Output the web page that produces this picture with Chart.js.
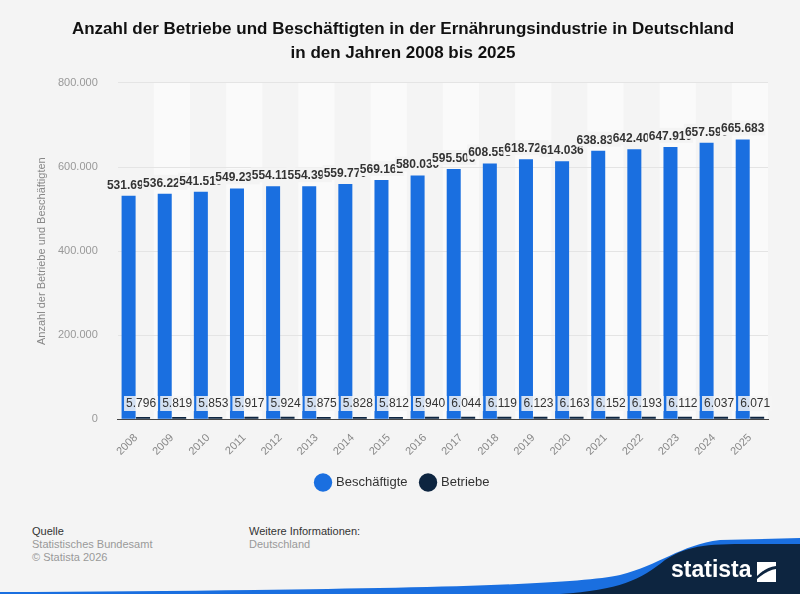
<!DOCTYPE html>
<html>
<head>
<meta charset="utf-8">
<script src="https://cdn.jsdelivr.net/npm/chart.js"></script>
<style>
  html, body { margin: 0; padding: 0; background: #f4f4f4; }
  #wrap { position: relative; width: 800px; height: 594px; overflow: hidden; }
  #chart { position: absolute; left: 0; top: 0; }
  .foot { position: absolute; font-family: "Liberation Sans Narrow", "Liberation Sans", Arial, sans-serif; font-size: 11px; line-height: 13px; }
  .foot .h { color: #333; }
  .foot .g { color: #999; }
  #logoTxt { position: absolute; left: 671px; top: 556px; color: #fff; font-family: "Liberation Sans Narrow", "Liberation Sans", Arial, sans-serif; font-weight: bold; font-size: 23px; }
</style>
</head>
<body>
<div id="wrap">
  <canvas id="chart" width="800" height="499"></canvas>

  <div class="foot" style="left:32px; top:525px;">
    <div class="h">Quelle</div>
    <div class="g">Statistisches Bundesamt</div>
    <div class="g">© Statista 2026</div>
  </div>
  <div class="foot" style="left:249px; top:525px;">
    <div class="h">Weitere Informationen:</div>
    <div class="g">Deutschland</div>
  </div>

  <svg width="800" height="594" style="position:absolute;left:0;top:0;">
    <path d="M0,592 C300,590 560,588 620,575 C660,565 680,545 720,540 L800,538 L800,594 L0,594 Z" fill="#1a6fe0"/>
    <path d="M560,594 C620,590 640,580 665,560 C690,544 710,544 760,544 L800,544 L800,594 Z" fill="#0d2540"/>
    <path d="M757,562 L776,562 L776,566 C768,567 762,571 757,576 Z" fill="#fff"/>
    <path d="M776,569 L776,582 L757,582 L757,579 C763,574 769,570 776,569 Z" fill="#fff"/>
  </svg>
  <div id="logoTxt">statista</div>
</div>

<script>
const years = ["2008", "2009", "2010", "2011", "2012", "2013", "2014", "2015", "2016",
  "2017", "2018", "2019", "2020", "2021", "2022", "2023", "2024", "2025"];
const beschaeftigte = [531690, 536220, 541510, 549230, 554110, 554390, 559770, 569162, 580030,
  595506, 608555, 618720, 614036, 638830, 642400, 647910, 657590, 665683];
const betriebe = [5796, 5819, 5853, 5917, 5924, 5875, 5828, 5812, 5940,
  6044, 6119, 6123, 6163, 6152, 6193, 6112, 6037, 6071];
const yTicks = [0, 200000, 400000, 600000, 800000];

const fmt = v => String(v).replace(/\B(?=(\d{3})+(?!\d))/g, ".");
const FONT = '"Liberation Sans", Arial, sans-serif';

// background, alternating column bands and the y axis title
const bandsPlugin = {
  id: "bands",
  beforeDraw(chart) {
    const { ctx, chartArea, scales } = chart;
    ctx.save();
    ctx.fillStyle = "#f4f4f4";
    ctx.fillRect(0, 0, chart.width, chart.height);
    const step = scales.x.getPixelForValue(1) - scales.x.getPixelForValue(0);
    ctx.fillStyle = "#fafafa";
    for (let i = 1; i < years.length; i += 2) {
      const cx = scales.x.getPixelForValue(i);
      ctx.fillRect(cx - step / 2, chartArea.top, step, chartArea.bottom - chartArea.top);
    }
    ctx.translate(42, (chartArea.top + chartArea.bottom) / 2);
    ctx.rotate(-Math.PI / 2);
    ctx.fillStyle = "#888";
    ctx.font = "11px " + FONT;
    ctx.textAlign = "center";
    ctx.textBaseline = "middle";
    ctx.fillText("Anzahl der Betriebe und Beschäftigten", 0, 0);
    ctx.restore();
  }
};

// value labels
const labelsPlugin = {
  id: "valueLabels",
  afterDatasetsDraw(chart) {
    const ctx = chart.ctx;
    ctx.save();
    ctx.textAlign = "center";
    ctx.textBaseline = "alphabetic";
    ctx.font = "bold 12px " + FONT;
    chart.getDatasetMeta(0).data.forEach((bar, i) => {
      const t = fmt(beschaeftigte[i]);
      const w = ctx.measureText(t).width;
      ctx.fillStyle = "#f4f4f4";
      ctx.fillRect(bar.x - w / 2 - 1, bar.y - 19, w + 2, 15);
      ctx.fillStyle = "#333";
      ctx.fillText(t, bar.x, bar.y - 7);
    });
    ctx.font = "12px " + FONT;
    ctx.textBaseline = "middle";
    chart.getDatasetMeta(1).data.forEach((bar, i) => {
      const t = fmt(betriebe[i]);
      const w = ctx.measureText(t).width;
      ctx.fillStyle = "rgba(245,245,245,0.85)";
      ctx.fillRect(bar.x - 2 - w / 2 - 2, 396, w + 4, 15);
      ctx.fillStyle = "#333";
      ctx.fillText(t, bar.x - 2, 404);
    });
    ctx.restore();
  }
};

new Chart(document.getElementById("chart"), {
  type: "bar",
  data: {
    labels: years,
    datasets: [
      { label: "Beschäftigte", data: beschaeftigte, backgroundColor: "#1a6fe0" },
      { label: "Betriebe", data: betriebe, backgroundColor: "#0d2540" }
    ]
  },
  options: {
    responsive: false,
    animation: false,
    devicePixelRatio: 1,
    categoryPercentage: 0.8,
    barPercentage: 0.97,
    layout: { padding: { left: 38, right: 32, top: 0, bottom: 0 } },
    scales: {
      x: {
        grid: { display: false },
        border: { color: "#444", width: 1 },
        ticks: { color: "#888", font: { family: FONT, size: 11 }, minRotation: 45, maxRotation: 45, padding: 4 }
      },
      y: {
        min: 0,
        max: 800000,
        afterBuildTicks: axis => { axis.ticks = yTicks.map(v => ({ value: v })); },
        grid: { color: "#e4e4e4", drawTicks: false },
        border: { display: false },
        ticks: { color: "#999", font: { family: FONT, size: 11 }, padding: 20, callback: v => fmt(v) }
      }
    },
    plugins: {
      title: {
        display: true,
        text: ["Anzahl der Betriebe und Beschäftigten in der Ernährungsindustrie in Deutschland", "in den Jahren 2008 bis 2025"],
        color: "#111",
        font: { family: '"Liberation Sans Narrow", "Liberation Sans", Arial, sans-serif', size: 17, weight: "bold", lineHeight: 1.41 },
        padding: { top: 17, bottom: 18 }
      },
      legend: {
        position: "bottom",
        labels: { usePointStyle: true, pointStyle: "circle", boxWidth: 13, boxHeight: 13, color: "#333", font: { family: FONT, size: 13 }, padding: 14 }
      },
      tooltip: { enabled: false }
    }
  },
  plugins: [bandsPlugin, labelsPlugin]
});
</script>
</body>
</html>
